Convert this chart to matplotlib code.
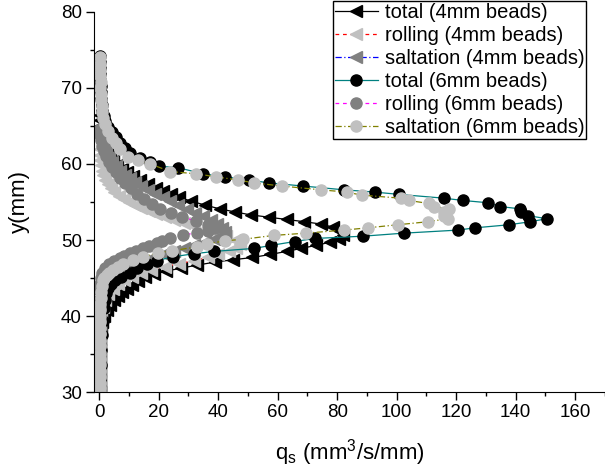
import matplotlib
matplotlib.use("Agg")
import matplotlib.pyplot as plt
from matplotlib.ticker import MultipleLocator

plt.rcParams["font.family"] = ["Liberation Sans", "DejaVu Sans"]
plt.rcParams["mathtext.fontset"] = "custom"
plt.rcParams["mathtext.rm"] = "Liberation Sans"

# total, 4mm beads  (y in mm, q_s in mm^3/s/mm)
y_total_4 = [66.5, 65.8, 65.0, 64.3, 63.6, 63.0, 62.3, 61.6, 61.0, 60.4, 59.9, 59.4, 58.9, 58.4,
             57.9, 57.4, 56.9, 56.4, 56.0, 55.6, 55.1, 54.6, 54.1, 53.7, 53.3, 53.0, 52.7, 52.4,
             52.1, 51.7, 51.2, 50.6, 50.1, 49.7, 49.3, 48.9, 48.5, 48.1, 47.7, 47.4, 47.1, 46.7,
             46.3, 45.9, 45.5, 45.1, 44.6, 44.1, 43.6, 43.1, 42.6, 42.1, 41.5, 40.8, 40.0, 39.2,
             38.2, 37.0, 35.5, 34.0, 32.5, 31.0, 30.0]
q_total_4 = [0.2, 0.2, 0.4, 0.6, 0.9, 1.3, 2.0, 2.8, 3.7, 4.8, 6.0, 7.6, 9.5, 11.5,
             13.8, 16.5, 19.0, 21.5, 24.0, 27.0, 31.0, 35.5, 40.5, 45.5, 51.0, 57.0, 63.0, 69.0,
             74.5, 78.5, 81.0, 81.8, 80.5, 77.5, 73.0, 68.0, 63.0, 57.5, 51.5, 45.0, 39.0, 33.0,
             27.5, 22.5, 18.5, 15.5, 13.0, 11.0, 9.3, 7.8, 6.4, 5.0, 3.8, 2.6, 1.6, 1.0,
             0.6, 0.4, 0.3, 0.3, 0.2, 0.2, 0.2]

# rolling, 4mm beads
y_roll_4 = [62.0, 61.2, 60.5, 59.8, 59.1, 58.5, 57.9, 57.3, 56.8, 56.3, 55.8, 55.4, 55.0, 54.6,
            54.2, 53.8, 53.4, 53.0, 52.6, 52.2, 51.8, 51.4, 51.0, 50.5, 50.0, 49.5, 49.0, 48.5,
            48.1, 47.7, 47.3, 46.9, 46.5, 46.1, 45.7, 45.2, 44.7, 44.2, 43.6, 42.9, 42.1, 41.2,
            40.2, 39.0, 37.6, 36.0, 34.4, 32.8, 31.4, 30.0]
q_roll_4 = [0.2, 0.3, 0.4, 0.6, 0.9, 1.4, 2.0, 2.9, 3.9, 5.1, 6.6, 8.2, 10.0, 12.0,
            14.2, 16.6, 19.2, 22.0, 25.0, 28.5, 32.0, 35.5, 39.0, 42.5, 45.5, 47.3, 46.0, 43.5,
            40.0, 36.5, 32.0, 27.0, 22.0, 17.5, 14.0, 11.0, 8.5, 6.4, 4.6, 3.1, 2.0, 1.2,
            0.7, 0.4, 0.3, 0.2, 0.2, 0.2, 0.2, 0.2]

# saltation, 4mm beads
y_salt_4 = [65.0, 64.3, 63.6, 62.9, 62.2, 61.5, 60.9, 60.3, 59.7, 59.1, 58.6, 58.1, 57.6, 57.1,
            56.6, 56.1, 55.6, 55.1, 54.6, 54.1, 53.6, 53.1, 52.6, 52.1, 51.6, 51.0, 50.5, 50.1,
            49.7, 49.3, 48.9, 48.5, 48.1, 47.7, 47.3, 46.8, 46.3, 45.8, 45.2, 44.5, 43.7, 42.8,
            41.8, 40.6, 39.2, 37.6, 36.0, 34.4, 32.8, 31.4, 30.0]
q_salt_4 = [0.2, 0.3, 0.6, 1.0, 1.6, 2.4, 3.3, 4.4, 5.6, 7.0, 8.6, 10.3, 12.2, 14.2,
            16.4, 18.8, 21.3, 23.9, 26.6, 29.4, 32.2, 35.0, 37.5, 39.6, 41.2, 42.2, 41.0, 38.5,
            35.5, 32.0, 28.5, 25.0, 21.5, 18.0, 14.8, 11.8, 9.0, 6.6, 4.6, 3.0, 1.8, 1.0,
            0.5, 0.3, 0.2, 0.2, 0.2, 0.2, 0.2, 0.2, 0.2]

# total, 6mm beads
y_total_6 = [74.2, 73.4, 72.6, 71.8, 71.0, 70.2, 69.4, 68.6, 67.8, 67.0, 66.3, 65.6, 64.9, 64.2,
             63.5, 62.8, 62.1, 61.5, 60.8, 60.2, 59.7, 59.5, 58.7, 58.3, 57.9, 57.5, 57.1, 56.6,
             56.3, 56.0, 55.5, 55.2, 54.9, 54.4, 54.1, 53.7, 53.2, 52.8, 52.4, 52.0, 51.6, 51.3,
             50.9, 50.5, 50.2, 49.8, 49.3, 48.9, 48.5, 48.2, 47.8, 47.3, 46.9, 46.3, 45.7, 45.2,
             44.7, 44.2, 43.7, 43.0, 42.1, 41.0, 39.4, 37.5, 35.5, 33.5, 31.7, 30.0]
q_total_6 = [0.3, 0.3, 0.3, 0.4, 0.4, 0.5, 0.6, 0.7, 0.9, 1.1, 1.5, 2.1, 3.0, 4.2,
             5.6, 7.0, 8.6, 10.4, 13.8, 17.0, 20.2, 26.6, 35.0, 42.4, 50.2, 57.2, 68.4, 82.2,
             92.6, 100.7, 115.8, 122.2, 130.6, 134.7, 141.4, 141.8, 144.1, 150.5, 144.8, 137.7, 126.3, 120.5,
             102.4, 88.6, 72.4, 65.7, 57.9, 52.2, 38.7, 32.0, 24.9, 19.5, 16.2, 12.8, 10.4, 7.5,
             5.4, 4.0, 3.0, 2.4, 2.0, 1.6, 1.3, 1.0, 0.7, 0.5, 0.4, 0.3]

# rolling, 6mm beads
y_roll_6 = [64.5, 63.8, 63.1, 62.4, 61.7, 61.0, 60.3, 59.6, 58.9, 58.2, 57.5, 56.8, 56.1, 55.4,
            54.7, 54.1, 53.5, 53.0, 52.5, 52.0, 51.6, 51.2, 50.9, 50.7, 50.3, 49.9, 49.6, 49.2,
            48.9, 48.6, 48.3, 47.9, 47.6, 47.2, 46.8, 46.3, 45.7, 45.0, 44.2, 43.3, 42.3, 41.0,
            39.5, 37.8, 36.0, 34.0, 32.0, 30.0]
q_roll_6 = [0.2, 0.3, 0.5, 0.9, 1.5, 2.3, 3.2, 4.3, 5.6, 7.1, 8.8, 10.7, 12.8, 15.0,
            17.6, 20.5, 24.0, 28.0, 32.5, 36.5, 38.9, 36.5, 32.8, 28.1, 23.7, 21.0, 19.4, 16.8,
            14.6, 12.4, 10.3, 8.5, 6.9, 5.0, 3.3, 2.0, 1.0, 0.5, 0.3, 0.2, 0.2, 0.2,
            0.2, 0.2, 0.2, 0.2, 0.2, 0.2]

# saltation, 6mm beads
y_salt_6 = [74.0, 73.2, 72.4, 71.6, 70.8, 70.0, 69.2, 68.4, 67.6, 66.8, 66.0, 65.2, 64.3, 63.4,
            62.7, 62.0, 60.9, 60.5, 60.0, 59.0, 58.7, 58.3, 57.9, 57.5, 57.1, 56.6, 56.3, 55.9,
            55.5, 55.2, 54.8, 54.4, 54.1, 53.7, 53.1, 52.8, 52.4, 52.0, 51.6, 51.3, 50.9, 50.6,
            50.1, 49.9, 49.5, 49.1, 48.6, 48.3, 47.8, 47.4, 46.9, 46.5, 46.1, 45.7, 45.4, 45.0,
            44.7, 44.0, 43.2, 42.4, 41.6, 40.8, 40.0, 39.2, 38.4, 37.6, 36.8, 36.0, 35.2, 34.4,
            33.6, 32.8, 32.0, 31.2, 30.5, 30.0]
q_salt_6 = [0.3, 0.3, 0.4, 0.3, 0.5, 0.4, 0.6, 0.7, 0.8, 1.0, 1.4, 2.0, 3.0, 4.4,
            5.7, 7.1, 9.8, 13.1, 17.2, 23.9, 32.7, 39.4, 46.5, 52.2, 61.3, 74.4, 83.2, 88.2,
            101.3, 104.0, 110.8, 112.5, 117.5, 115.8, 115.8, 117.2, 110.4, 100.3, 90.2, 82.2, 69.4, 58.6,
            48.5, 42.4, 36.4, 33.0, 24.6, 19.9, 14.8, 11.4, 8.1, 6.2, 4.7, 3.4, 2.5, 1.8,
            1.3, 0.9, 0.7, 0.5, 0.4, 0.3, 0.4, 0.3, 0.3, 0.4, 0.3, 0.3, 0.3, 0.3,
            0.3, 0.2, 0.3, 0.3, 0.2, 0.3]

fig = plt.figure(figsize=(6.05, 4.73), dpi=100)
ax = fig.add_axes([0.155, 0.171, 0.845, 0.804])

ms = 8
ax.plot(q_total_4, y_total_4, color="black", lw=0.9, marker="<", ms=ms,
        mfc="black", mec="black", label="total (4mm beads)")
ax.plot(q_roll_4, y_roll_4, color="red", lw=0.9, ls=(0, (3, 3)), marker="<", ms=ms,
        mfc="#c0c0c0", mec="#c0c0c0", label="rolling (4mm beads)")
ax.plot(q_salt_4, y_salt_4, color="blue", lw=0.9, ls=(0, (5, 2, 1, 2)), marker="<", ms=ms,
        mfc="#808080", mec="#808080", label="saltation (4mm beads)")
ax.plot(q_total_6, y_total_6, color="#008080", lw=0.9, marker="o", ms=ms,
        mfc="black", mec="black", label="total (6mm beads)")
ax.plot(q_roll_6, y_roll_6, color="#ff00ff", lw=0.9, ls=(0, (3, 3)), marker="o", ms=ms,
        mfc="#808080", mec="#808080", label="rolling (6mm beads)")
ax.plot(q_salt_6, y_salt_6, color="#808000", lw=0.9, ls=(0, (5, 2, 1, 2)), marker="o", ms=ms,
        mfc="#c0c0c0", mec="#c0c0c0", label="saltation (6mm beads)")

ax.set_xlim(-1.8, 170)
ax.set_ylim(30, 80)
ax.xaxis.set_major_locator(MultipleLocator(20))
ax.xaxis.set_minor_locator(MultipleLocator(10))
ax.yaxis.set_major_locator(MultipleLocator(10))
ax.yaxis.set_minor_locator(MultipleLocator(5))
ax.tick_params(which="major", direction="out", length=6, width=1, labelsize=13.5, pad=2.5)
ax.tick_params(which="minor", direction="out", length=3, width=1)
ax.spines["top"].set_visible(False)
ax.spines["right"].set_visible(False)

ax.set_xlabel(r"q$_\mathregular{s}$ (mm$^\mathregular{3}$/s/mm)", fontsize=16, labelpad=12)
ax.set_ylabel("y(mm)", fontsize=16, labelpad=22)

leg = ax.legend(loc="upper right", bbox_to_anchor=(0.969, 0.998), bbox_transform=fig.transFigure,
                fontsize=14.5, frameon=True, fancybox=False, framealpha=1, edgecolor="black",
                borderaxespad=0, borderpad=0.1, labelspacing=0.2, handlelength=2.1,
                handletextpad=0.35)
leg.get_frame().set_linewidth(1)

fig.savefig("out.png", dpi=100)
